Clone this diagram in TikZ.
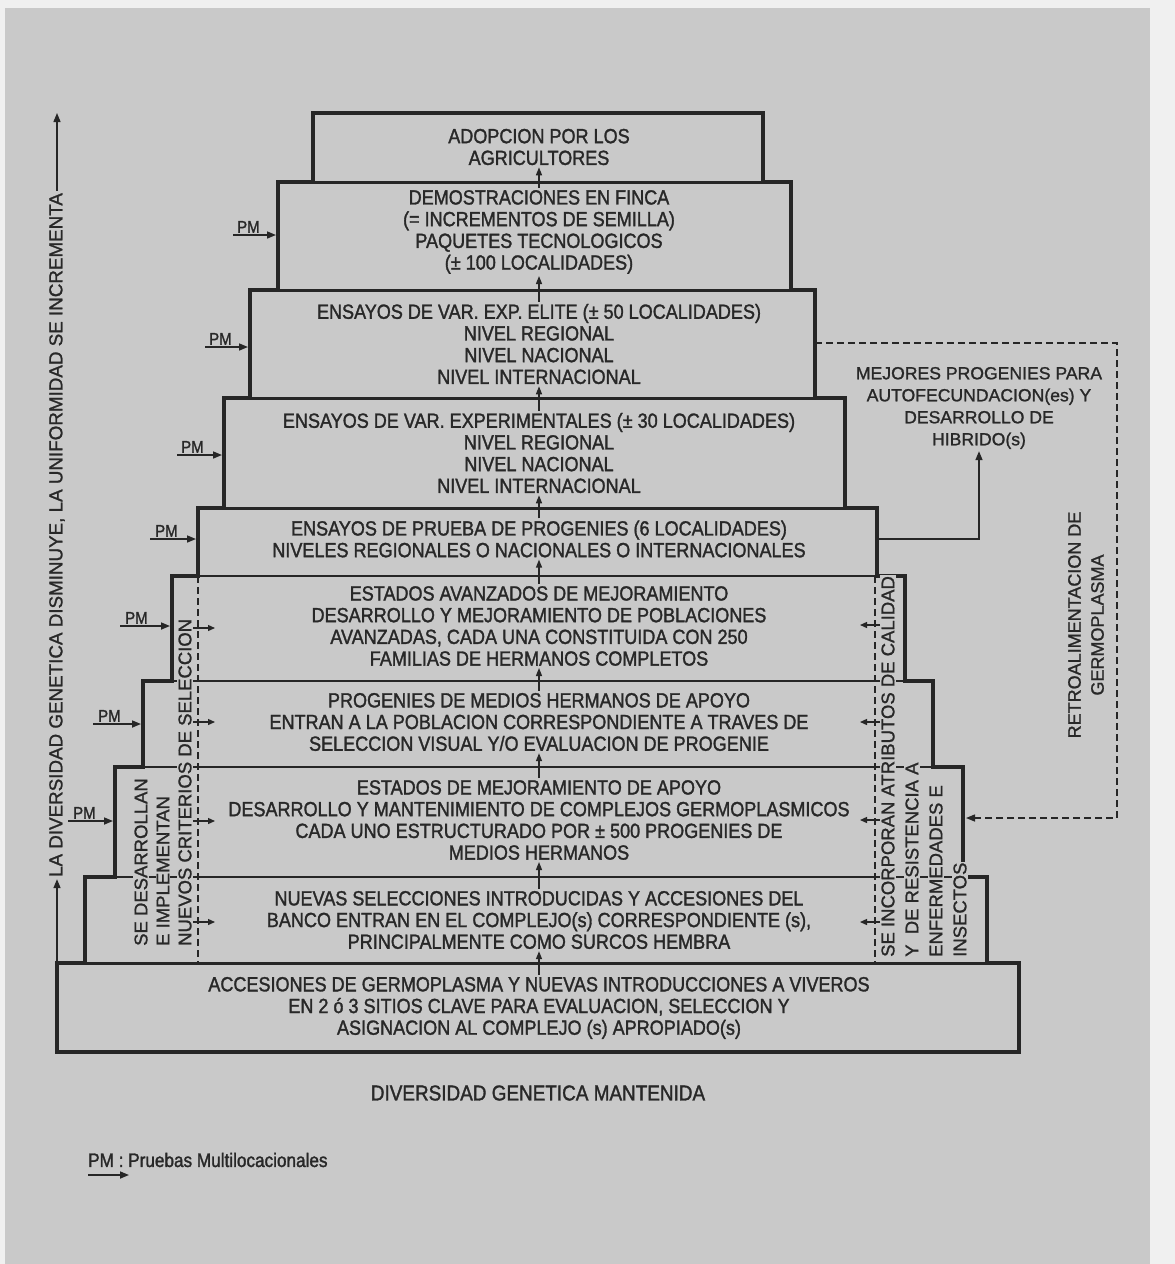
\documentclass[tikz,border=0pt]{standalone}
\usepackage{fontspec}
\setmainfont[FakeBold=1.2]{Liberation Sans}
\newfontfamily\condf[FakeStretch=0.88,FakeBold=1.5]{Liberation Sans}
\usetikzlibrary{arrows.meta}
\definecolor{bgc}{RGB}{201,201,201}
\definecolor{ink}{RGB}{38,38,38}
\definecolor{txt}{RGB}{40,40,40}
\begin{document}
\begin{tikzpicture}[x=1pt,y=-1pt,
  pyr outline/.style={draw=ink,line width=4.5pt,line join=miter},
  tier bound/.style={draw=ink,line width=3pt},
  mid bound/.style={draw=ink,line width=2pt},
  thin bound/.style={draw=ink,line width=1.2pt},
  dash line/.style={draw=ink,line width=1.5pt,dash pattern=on 7pt off 4pt},
  tiertext/.style={font=\condf\fontsize{20.5pt}{21.7pt}\selectfont,align=center,text=txt,inner sep=2pt},
  sidetext/.style={font=\fontsize{18.5pt}{22pt}\selectfont,text=txt,rotate=90,anchor=west,fill=bgc,inner sep=1pt},
  carrow/.style={draw=ink,line width=1.3pt,-{Triangle[length=8pt,width=6pt]}},
  pmarrow/.style={draw=ink,line width=1.6pt,-{Triangle[length=9pt,width=7pt]}},
  pmlabel/.style={font=\condf\fontsize{17pt}{17pt}\selectfont,text=txt,inner sep=0pt,anchor=south west},
  sarrow/.style={draw=ink,line width=1.3pt,-{Triangle[length=7pt,width=6pt]}},
  fbarrow/.style={dash line,-{Triangle[length=9pt,width=7pt]}},
  solidarrow/.style={draw=ink,line width=1.5pt,-{Triangle[length=9pt,width=7pt]}}
]
\useasboundingbox (0,0) rectangle (1175,1264);
\fill[white!94!black] (0,0) rectangle (1175,1264);
\fill[bgc] (5,8) rectangle (1150,1264);

% tier boundaries
\draw[tier bound] (278,182) -- (791,182);
\draw[tier bound] (250,290) -- (815,290);
\draw[tier bound] (224,398) -- (845,398);
\draw[tier bound] (198,508) -- (877,508);
\draw[mid bound] (172,576) -- (905,576);
\draw[thin bound] (143,681) -- (933,681);
\draw[thin bound] (115,767) -- (963,767);
\draw[thin bound] (85,877) -- (987,877);
\draw[tier bound] (57,963) -- (1019,963);

% dashed side lines
\draw[dash line] (198,576) -- (198,963);
\draw[dash line] (875,576) -- (875,963);

% pyramid outline
\draw[pyr outline] (57,1052) -- (57,963) -- (85,963) -- (85,877) -- (115,877) -- (115,767) -- (143,767) -- (143,681) -- (172,681) -- (172,576) -- (198,576) -- (198,508) -- (224,508) -- (224,398) -- (250,398) -- (250,290) -- (278,290) -- (278,182) -- (313,182) -- (313,113) -- (763,113) -- (763,182) -- (791,182) -- (791,290) -- (815,290) -- (815,398) -- (845,398) -- (845,508) -- (877,508) -- (877,576) -- (905,576) -- (905,681) -- (933,681) -- (933,767) -- (963,767) -- (963,877) -- (987,877) -- (987,963) -- (1019,963) -- (1019,1052) -- cycle;

% tier texts
\node[tiertext] (t1) at (539,147) {ADOPCION POR LOS\\AGRICULTORES};
\node[tiertext] (t2) at (539,232) {DEMOSTRACIONES EN FINCA\\(= INCREMENTOS DE SEMILLA)\\PAQUETES TECNOLOGICOS\\(± 100 LOCALIDADES)};
\node[tiertext] (t3) at (539,344) {ENSAYOS DE VAR. EXP. ELITE (± 50 LOCALIDADES)\\NIVEL REGIONAL\\NIVEL NACIONAL\\NIVEL INTERNACIONAL};
\node[tiertext] (t4) at (539,453) {ENSAYOS DE VAR. EXPERIMENTALES (± 30 LOCALIDADES)\\NIVEL REGIONAL\\NIVEL NACIONAL\\NIVEL INTERNACIONAL};
\node[tiertext] (t5) at (539,539) {ENSAYOS DE PRUEBA DE PROGENIES (6 LOCALIDADES)\\NIVELES REGIONALES O NACIONALES O INTERNACIONALES};
\node[tiertext] (t6) at (539,626) {ESTADOS AVANZADOS DE MEJORAMIENTO\\DESARROLLO Y MEJORAMIENTO DE POBLACIONES\\AVANZADAS, CADA UNA CONSTITUIDA CON 250\\FAMILIAS DE HERMANOS COMPLETOS};
\node[tiertext] (t7) at (539,722) {PROGENIES DE MEDIOS HERMANOS DE APOYO\\ENTRAN A LA POBLACION CORRESPONDIENTE A TRAVES DE\\SELECCION VISUAL Y/O EVALUACION DE PROGENIE};
\node[tiertext] (t8) at (539,820) {ESTADOS DE MEJORAMIENTO DE APOYO\\DESARROLLO Y MANTENIMIENTO DE COMPLEJOS GERMOPLASMICOS\\CADA UNO ESTRUCTURADO POR ± 500 PROGENIES DE\\MEDIOS HERMANOS};
\node[tiertext] (t9) at (539,920) {NUEVAS SELECCIONES INTRODUCIDAS Y ACCESIONES DEL\\BANCO ENTRAN EN EL COMPLEJO(s) CORRESPONDIENTE (s),\\PRINCIPALMENTE COMO SURCOS HEMBRA};
\node[tiertext] (t10) at (539,1008) {ACCESIONES DE GERMOPLASMA Y NUEVAS INTRODUCCIONES A VIVEROS\\EN 2 ó 3 SITIOS CLAVE PARA EVALUACION, SELECCION Y\\ASIGNACION AL COMPLEJO (s) APROPIADO(s)};

% center arrows
\draw[carrow] (t10.north) -- (t9.south);
\draw[carrow] (t9.north) -- (t8.south);
\draw[carrow] (t8.north) -- (t7.south);
\draw[carrow] (t7.north) -- (t6.south);
\draw[carrow] (t6.north) -- (t5.south);
\draw[carrow] (t5.north) -- (t4.south);
\draw[carrow] (t4.north) -- (t3.south);
\draw[carrow] (t3.north) -- (t2.south);
\draw[carrow] (t2.north) -- (t1.south);

% side texts
\node[sidetext] (sl1) at (141,947) {SE DESARROLLAN};
\node[sidetext] (sl2) at (163,947) {E IMPLEMENTAN};
\node[sidetext] (sl3) at (185,947) {NUEVOS CRITERIOS DE SELECCION};
\node[sidetext] (sr1) at (888,958) {SE INCORPORAN ATRIBUTOS DE CALIDAD};
\node[sidetext] (sr2) at (912,958) {Y\ \ DE RESISTENCIA A};
\node[sidetext] (sr3) at (936,958) {ENFERMEDADES E};
\node[sidetext] (sr4) at (960,958) {INSECTOS};

% small arrows at dashed lines
\coordinate (la1) at (193,628); \coordinate (lb1) at (215,628);
\coordinate (la2) at (193,722); \coordinate (lb2) at (215,722);
\coordinate (la3) at (193,821); \coordinate (lb3) at (215,821);
\coordinate (la4) at (193,922); \coordinate (lb4) at (215,922);
\draw[sarrow] (la1) -- (lb1);
\draw[sarrow] (la2) -- (lb2);
\draw[sarrow] (la3) -- (lb3);
\draw[sarrow] (la4) -- (lb4);
\coordinate (ra1) at (880,625); \coordinate (rb1) at (860,625);
\coordinate (ra2) at (880,722); \coordinate (rb2) at (860,722);
\coordinate (ra3) at (880,820); \coordinate (rb3) at (860,820);
\coordinate (ra4) at (880,922); \coordinate (rb4) at (860,922);
\draw[sarrow] (ra1) -- (rb1);
\draw[sarrow] (ra2) -- (rb2);
\draw[sarrow] (ra3) -- (rb3);
\draw[sarrow] (ra4) -- (rb4);

% PM arrows
\coordinate (p2s) at (233,235); \coordinate (p2e) at (276,235);
\coordinate (p3s) at (205,347); \coordinate (p3e) at (248,347);
\coordinate (p4s) at (177,455); \coordinate (p4e) at (222,455);
\coordinate (p5s) at (150,539); \coordinate (p5e) at (196,539);
\coordinate (p6s) at (120,626); \coordinate (p6e) at (170,626);
\coordinate (p7s) at (93,724); \coordinate (p7e) at (141,724);
\coordinate (p8s) at (68,821); \coordinate (p8e) at (113,821);
\foreach \k in {2,...,8}{
  \draw[pmarrow] (p\k s) -- (p\k e);
}
\node[pmlabel] (pm2) at (237,233) {PM};
\node[pmlabel] (pm3) at (209,345) {PM};
\node[pmlabel] (pm4) at (181,453) {PM};
\node[pmlabel] (pm5) at (155,537) {PM};
\node[pmlabel] (pm6) at (125,624) {PM};
\node[pmlabel] (pm7) at (98,722) {PM};
\node[pmlabel] (pm8) at (73,819) {PM};

% right side: best progenies and feedback
\node[font=\fontsize{17.6pt}{22pt}\selectfont,align=center,text=txt,inner sep=2pt] (mej) at (979,408) {MEJORES PROGENIES PARA\\AUTOFECUNDACION(es) Y\\DESARROLLO DE\\HIBRIDO(s)};
\coordinate (t5r) at (877,539);
\draw[solidarrow] (t5r) -| (mej.south);
\node[font=\fontsize{18pt}{23pt}\selectfont,align=center,text=txt,rotate=90,inner sep=1pt] (retro) at (1086,625) {RETROALIMENTACION DE\\GERMOPLASMA};
\coordinate (fb0) at (815,343);
\coordinate (fb1) at (1117,343);
\coordinate (fb2) at (1117,818);
\coordinate (fb3) at (966,818);
\draw[fbarrow] (fb0) -- (fb1) -- (fb2) -- (fb3);

% left axis
\node[font=\fontsize{18.8pt}{22pt}\selectfont,text=txt,rotate=90,inner sep=2pt] (axis) at (57,535) {LA DIVERSIDAD GENETICA DISMINUYE, LA UNIFORMIDAD SE INCREMENTA};
\coordinate (axb) at (57,963);
\coordinate (axt) at (57,113);
\draw[pmarrow,line width=1.4pt] (axb) -- (axis.west);
\draw[pmarrow,line width=1.4pt] (axis.east) -- (axt);

% bottom caption and legend
\node[font=\condf\fontsize{21.5pt}{22pt}\selectfont,text=txt] (cap) at (538,1093) {DIVERSIDAD GENETICA MANTENIDA};
\node[font=\condf\fontsize{19.5pt}{20pt}\selectfont,text=txt,anchor=west,inner sep=0pt] (leg) at (88,1160) {PM : Pruebas Multilocacionales};
\coordinate (lgs) at (88,1175);
\coordinate (lge) at (129,1175);
\draw[pmarrow] (lgs) -- (lge);
\end{tikzpicture}
\end{document}
